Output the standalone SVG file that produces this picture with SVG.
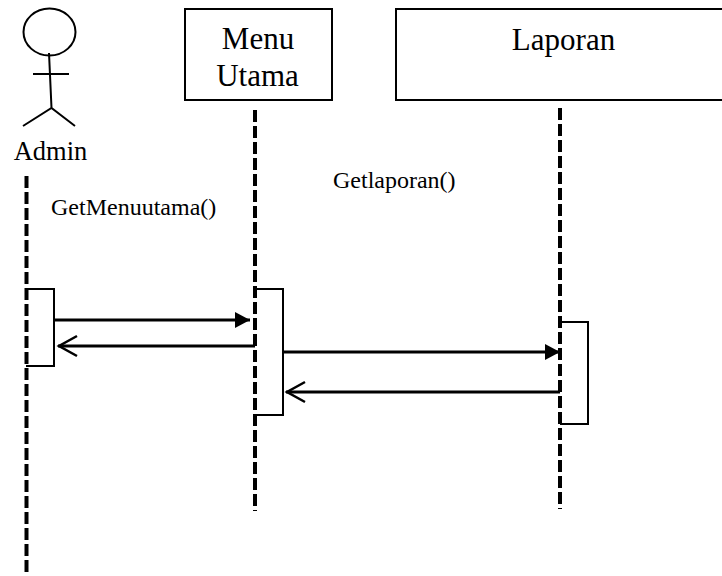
<svg xmlns="http://www.w3.org/2000/svg" width="722" height="576" viewBox="0 0 722 576">
<style>
text{font-family:"Liberation Serif","Times New Roman",serif;fill:#000}
.box{fill:#fff;stroke:#000;stroke-width:2}
.act{fill:none;stroke:#000;stroke-width:2}
.life{fill:none;stroke:#000;stroke-width:4;stroke-dasharray:12 4}
.msg{fill:none;stroke:#000;stroke-width:3}
.fig{fill:none;stroke:#000;stroke-width:2}
.big{font-size:31px}
.small{font-size:24px}
</style>
<defs>
<marker id="solid" markerUnits="userSpaceOnUse" markerWidth="16" markerHeight="16" refX="15" refY="8" orient="auto"><path d="M0 0L15 8L0 16Z" fill="#000"/></marker>
<marker id="open" markerUnits="userSpaceOnUse" markerWidth="22" markerHeight="24" refX="20" refY="12" orient="auto"><path d="M1 2L19 12L1 22" fill="none" stroke="#000" stroke-width="2.5"/></marker>
</defs>
<g id="connectors">
<path class="life" d="M26.500 176V572"/>
<path class="life" d="M255 110V511"/>
<path class="life" d="M560 108V509"/>
<path class="msg" marker-end="url(#solid)" d="M53 320H250"/>
<path class="msg" marker-end="url(#open)" d="M255 346H58"/>
<path class="msg" marker-end="url(#solid)" d="M283 352H560"/>
<path class="msg" marker-end="url(#open)" d="M560 392H286"/>
</g>
<g id="admin">
<ellipse class="fig" cx="49.500" cy="32" rx="26" ry="23.500"/>
<path class="fig" d="M49 53L51.500 108M33 74H69M23 126L51.500 108L75 126"/>
<text x="50.500" y="160" text-anchor="middle" style="font-size:26.500px">Admin</text>
</g>
<g id="menu-utama">
<rect class="box" x="185" y="9" width="147" height="91"/>
<text class="big" x="258" y="49" text-anchor="middle">Menu</text>
<text class="big" x="257.500" y="86" text-anchor="middle">Utama</text>
</g>
<g id="laporan">
<rect class="box" x="396" y="9" width="330" height="91"/>
<text class="big" x="563.500" y="50" text-anchor="middle">Laporan</text>
</g>
<g id="label-getmenuutama"><text class="small" x="51" y="215">GetMenuutama()</text></g>
<g id="label-getlaporan"><text class="small" x="333" y="188">Getlaporan()</text></g>
<g id="activation-admin"><path class="act" d="M26 289H54V366H26"/></g>
<g id="activation-menu"><path class="act" d="M255 289H283V415H255"/></g>
<g id="activation-laporan"><path class="act" d="M558 322H588V424H560"/></g>
</svg>
